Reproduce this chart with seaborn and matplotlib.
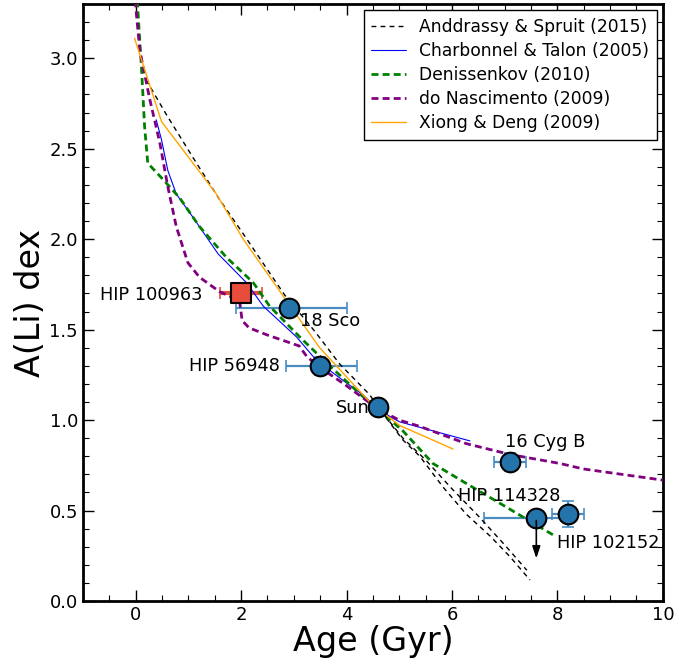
import numpy as np
import pandas as pd
import matplotlib
matplotlib.use("Agg")
import matplotlib.pyplot as plt
import seaborn as sns
from matplotlib.ticker import MultipleLocator

# --- model tracks (age in Gyr, A(Li)) ---
andr_age = [0.2, 0.58, 1.09, 1.59, 2.04, 2.48, 2.83, 3.40, 3.87, 4.44, 4.6,
            5.07, 5.39, 5.83, 6.27, 6.72, 7.10, 7.48]
andr_li = [2.88, 2.69, 2.45, 2.22, 2.03, 1.84, 1.69, 1.49, 1.31, 1.14, 1.07,
           0.89, 0.80, 0.63, 0.48, 0.36, 0.245, 0.116]
andr2_age = [4.6, 5.07, 5.5, 6.0, 6.5, 7.0, 7.42]
andr2_li = [1.07, 0.90, 0.78, 0.62, 0.47, 0.31, 0.17]

char_age = [0.39, 0.49, 0.61, 0.77, 1.09, 1.56, 2.10, 2.42, 3.05, 3.43, 3.93,
            4.31, 4.6, 4.88, 5.01, 6.34]
char_li = [2.66, 2.55, 2.38, 2.25, 2.12, 1.92, 1.76, 1.63, 1.46, 1.33, 1.22,
           1.14, 1.06, 1.01, 0.99, 0.885]

deni_age = [0.03, 0.11, 0.17, 0.23, 0.52, 0.83, 1.21, 1.72, 2.23, 2.54, 3.11,
            3.68, 4.31, 4.6, 5.07, 5.64, 6.27, 6.91, 7.92]
deni_li = [3.32, 2.95, 2.62, 2.42, 2.33, 2.23, 2.07, 1.90, 1.76, 1.63, 1.46,
           1.30, 1.13, 1.06, 0.94, 0.76, 0.65, 0.54, 0.365]

nasc_age = [-0.01, 0.08, 0.27, 0.46, 0.61, 0.77, 0.99, 1.21, 1.59, 1.97, 2.02,
            2.15, 2.5, 2.9, 3.1, 3.25, 3.5, 4.0, 4.6, 5.0, 5.39, 6.27, 7.1,
            8.05, 8.49, 10.2]
nasc_li = [3.32, 3.04, 2.77, 2.53, 2.29, 2.07, 1.87, 1.79, 1.71, 1.66, 1.55,
           1.51, 1.47, 1.43, 1.41, 1.35, 1.29, 1.19, 1.06, 1.0, 0.965, 0.87,
           0.81, 0.76, 0.73, 0.66]

xiong_age = [-0.02, 0.49, 1.53, 2.04, 2.45, 2.86, 3.49, 4.44, 4.6, 5.01, 6.02]
xiong_li = [3.11, 2.65, 2.25, 2.0, 1.83, 1.66, 1.40, 1.10, 1.06, 0.97, 0.84]

# --- stars ---
star_names = ["18 Sco", "HIP 56948", "Sun", "16 Cyg B", "HIP 114328", "HIP 102152"]
star_age = [2.9, 3.5, 4.6, 7.1, 7.6, 8.2]
star_li = [1.62, 1.30, 1.07, 0.77, 0.46, 0.48]
star_age_lo = [1.0, 0.65, 0.0, 0.3, 1.0, 0.3]
star_age_hi = [1.1, 0.7, 0.0, 0.3, 0.7, 0.3]
star_li_err = [0.02, 0.05, 0.0, 0.05, 0.0, 0.07]

hip100963_age = [2.0]
hip100963_li = [1.70]
hip100963_age_err = [0.4]
hip100963_li_err = [0.02]

sns.set_theme(style="ticks")
plt.rcParams["font.family"] = ["DejaVu Sans"]
plt.rcParams.update({
    "text.color": "black", "axes.labelcolor": "black",
    "xtick.direction": "in", "ytick.direction": "in",
    "xtick.top": True, "ytick.right": True,
    "xtick.major.size": 8, "ytick.major.size": 8,
    "xtick.minor.size": 4, "ytick.minor.size": 4,
    "xtick.major.width": 1.0, "ytick.major.width": 1.0,
    "xtick.minor.width": 0.8, "ytick.minor.width": 0.8,
    "xtick.color": "black", "ytick.color": "black",
    "axes.edgecolor": "black", "axes.linewidth": 2.0,
})

fig, ax = plt.subplots(figsize=(6.97, 6.66), dpi=100)
fig.subplots_adjust(left=0.119, right=0.951, bottom=0.0976, top=0.994)

models = [
    ("Anddrassy & Spruit (2015)", andr_age, andr_li, "black", 1.0, (0, (3.5, 3))),
    ("Charbonnel & Talon (2005)", char_age, char_li, "blue", 0.8, "-"),
    ("Denissenkov (2010)", deni_age, deni_li, "green", 2.0, (0, (2.5, 1.5))),
    ("do Nascimento (2009)", nasc_age, nasc_li, "purple", 2.0, (0, (2.5, 1.5))),
    ("Xiong & Deng (2009)", xiong_age, xiong_li, "orange", 1.0, "-"),
]
for name, a, li, col, lw, ls in models:
    df = pd.DataFrame({"age": a, "li": li})
    sns.lineplot(data=df, x="age", y="li", sort=False, estimator=None, ax=ax,
                 color=col, lw=lw, linestyle=ls, label=name, zorder=3)

df2 = pd.DataFrame({"age": andr2_age, "li": andr2_li})
sns.lineplot(data=df2, x="age", y="li", sort=False, estimator=None, ax=ax,
             color="black", lw=1.0, linestyle=(0, (3.5, 3)), zorder=3, legend=False)

ax.errorbar(star_age, star_li, xerr=[star_age_lo, star_age_hi], yerr=star_li_err,
            fmt="none", ecolor="#4a8cc2", elinewidth=1.6, capsize=4, capthick=1.2,
            zorder=2)
ax.errorbar(hip100963_age, hip100963_li, xerr=hip100963_age_err, yerr=hip100963_li_err,
            fmt="none", ecolor="#e74c3c", elinewidth=3, capsize=4, capthick=1.2,
            zorder=2)

stars = pd.DataFrame({"age": star_age, "li": star_li})
sns.scatterplot(data=stars, x="age", y="li", ax=ax, s=200, color="#2473ab",
                edgecolor="black", linewidth=1.5, zorder=5)
sns.scatterplot(x=hip100963_age, y=hip100963_li, ax=ax, marker="s", s=200,
                color="#e74c3c", edgecolor="black", linewidth=1.5, zorder=5)

# upper limit for HIP 114328
ax.annotate("", xy=(7.6, 0.22), xytext=(7.6, 0.46),
            arrowprops=dict(arrowstyle="-|>,head_width=0.2,head_length=0.6",
                            color="black", lw=1.2), zorder=6)

fs = 12.8
ax.text(-0.68, 1.69, "HIP 100963", fontsize=fs, ha="left", va="center")
ax.text(3.11, 1.55, "18 Sco", fontsize=fs, ha="left", va="center")
ax.text(2.73, 1.30, "HIP 56948", fontsize=fs, ha="right", va="center")
ax.text(4.44, 1.066, "Sun", fontsize=fs, ha="right", va="center")
ax.text(7.0, 0.88, "16 Cyg B", fontsize=fs, ha="left", va="center")
ax.text(6.11, 0.58, "HIP 114328", fontsize=fs, ha="left", va="center")
ax.text(8.0, 0.32, "HIP 102152", fontsize=fs, ha="left", va="center")

ax.set_xlim(-1, 10)
ax.set_ylim(0, 3.3)
ax.xaxis.set_major_locator(MultipleLocator(2))
ax.xaxis.set_minor_locator(MultipleLocator(0.5))
ax.yaxis.set_major_locator(MultipleLocator(0.5))
ax.yaxis.set_minor_locator(MultipleLocator(0.1))
ax.tick_params(which="both", top=True, right=True, labelsize=13)
ax.set_xlabel("Age (Gyr)", fontsize=24, labelpad=1)
ax.set_ylabel("A(Li) dex", fontsize=24, labelpad=2)

leg = ax.legend(loc="upper right", fontsize=12.3, frameon=True, fancybox=False,
                edgecolor="black", framealpha=1, borderaxespad=0.35,
                labelspacing=0.36, borderpad=0.45)
leg.get_frame().set_linewidth(1.0)

fig.savefig("out.png", dpi=100)
